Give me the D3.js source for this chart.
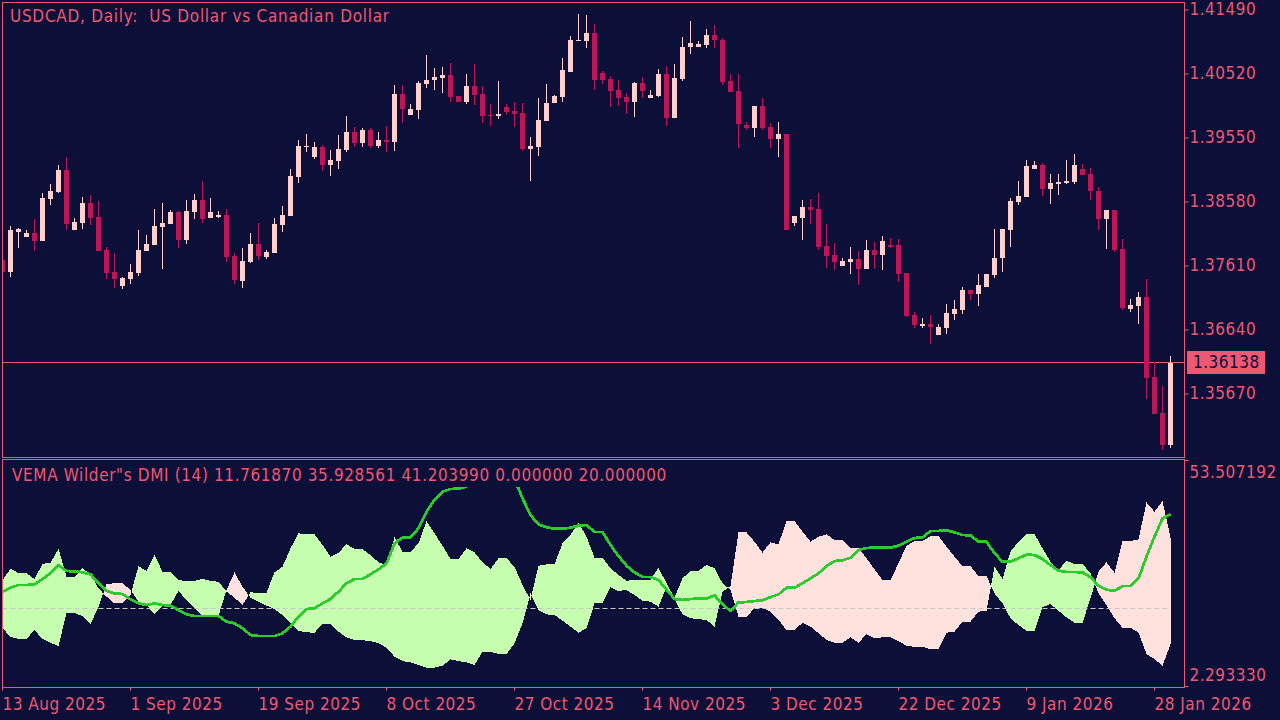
<!DOCTYPE html>
<html>
<head>
<meta charset="utf-8">
<script src="https://cdn.jsdelivr.net/npm/d3@7"></script>
<style>
  html, body { margin: 0; padding: 0; background: #0c0f37; }
  svg { display: block; }
  text { font-family: "DejaVu Sans Condensed", "DejaVu Sans", sans-serif; font-size: 17px; letter-spacing: 0.5px; white-space: pre; }
  .title-text { letter-spacing: 0.73px; }
  .caption-text { letter-spacing: 0.62px; }
</style>
</head>
<body>
<div id="chart"></div>
<script>
// Daily candles, one entry per bar
const opens = [
  1.37693, 1.37512, 1.38118, 1.38042, 1.38103, 1.37982, 1.38618, 1.38724, 1.39057, 1.38148,
  1.38255, 1.38558, 1.38345, 1.37845, 1.37512, 1.37299, 1.37406, 1.37497, 1.37830, 1.37921,
  1.38194, 1.38239, 1.38421, 1.37997, 1.38421, 1.38603, 1.38330, 1.38345, 1.38375, 1.37754,
  1.37375, 1.37663, 1.37936, 1.37739, 1.37800, 1.38224, 1.38360, 1.38951, 1.39406, 1.39255,
  1.39406, 1.39133, 1.39194, 1.39361, 1.39634, 1.39467, 1.39664, 1.39421, 1.39512, 1.39482,
  1.40209, 1.39891, 1.39967, 1.40361, 1.40422, 1.40452, 1.40497, 1.40179, 1.40088, 1.40331,
  1.40209, 1.39891, 1.39876, 1.40012, 1.39952, 1.39921, 1.39376, 1.39406, 1.39800, 1.40073,
  1.40164, 1.40543, 1.41013, 1.41013, 1.41134, 1.40528, 1.40437, 1.40270, 1.40164, 1.40088,
  1.40377, 1.40149, 1.40179, 1.40512, 1.39846, 1.40437, 1.40922, 1.40922, 1.40952, 1.41103,
  1.41028, 1.40407, 1.40255, 1.39739, 1.39694, 1.40027, 1.39709, 1.39527, 1.39603, 1.38255,
  1.38330, 1.38497, 1.38467, 1.37906, 1.37769, 1.37602, 1.37663, 1.37709, 1.37557, 1.37845,
  1.37769, 1.37921, 1.37921, 1.37497, 1.36860, 1.36693, 1.36723, 1.36557, 1.36663, 1.36875,
  1.36936, 1.37239, 1.37178, 1.37284, 1.37466, 1.37724, 1.38148, 1.38573, 1.38648, 1.39073,
  1.39133, 1.38769, 1.38845, 1.38861, 1.38876, 1.39073, 1.38997, 1.38739, 1.38315, 1.38451,
  1.37860, 1.36951, 1.36997, 1.37133, 1.35920, 1.35375, 1.34889
];
const highs = [
  1.37693, 1.38209, 1.38179, 1.38148, 1.38315, 1.38709, 1.38845, 1.39133, 1.39255, 1.38330,
  1.38648, 1.38678, 1.38588, 1.37891, 1.37800, 1.37436, 1.37632, 1.38148, 1.38072, 1.38467,
  1.38558, 1.38451, 1.38436, 1.38603, 1.38693, 1.38891, 1.38633, 1.38436, 1.38467, 1.37800,
  1.37876, 1.38103, 1.38255, 1.37845, 1.38330, 1.38512, 1.39073, 1.39512, 1.39603, 1.39482,
  1.39436, 1.39361, 1.39588, 1.39876, 1.39709, 1.39694, 1.39694, 1.39634, 1.39724, 1.40346,
  1.40346, 1.40057, 1.40407, 1.40800, 1.40604, 1.40619, 1.40680, 1.40179, 1.40512, 1.40664,
  1.40331, 1.40057, 1.40407, 1.40057, 1.40088, 1.40073, 1.39558, 1.40149, 1.40361, 1.40194,
  1.40755, 1.41088, 1.41421, 1.41406, 1.41270, 1.40558, 1.40482, 1.40422, 1.40225, 1.40392,
  1.40467, 1.40270, 1.40588, 1.40634, 1.40664, 1.41073, 1.41316, 1.41013, 1.41194, 1.41255,
  1.41058, 1.40512, 1.40512, 1.39785, 1.40027, 1.40149, 1.39770, 1.39785, 1.39603, 1.38360,
  1.38603, 1.38618, 1.38709, 1.38239, 1.37951, 1.37724, 1.37891, 1.37830, 1.37997, 1.37967,
  1.38057, 1.38027, 1.38012, 1.37497, 1.36906, 1.36815, 1.36860, 1.36723, 1.37027, 1.37087,
  1.37284, 1.37239, 1.37481, 1.37481, 1.38164, 1.38164, 1.38633, 1.38891, 1.39209, 1.39194,
  1.39164, 1.38997, 1.38997, 1.39209, 1.39300, 1.39148, 1.39088, 1.38800, 1.38451, 1.38451,
  1.38012, 1.37102, 1.37208, 1.37406, 1.36148, 1.35784, 1.36239
];
const lows = [
  1.37512, 1.37436, 1.37876, 1.38042, 1.37830, 1.37982, 1.38527, 1.38709, 1.38148, 1.38148,
  1.38164, 1.38224, 1.37830, 1.37406, 1.37269, 1.37254, 1.37329, 1.37451, 1.37830, 1.37921,
  1.37557, 1.38239, 1.37876, 1.37936, 1.38315, 1.38255, 1.38330, 1.38330, 1.37663, 1.37329,
  1.37269, 1.37648, 1.37693, 1.37709, 1.37800, 1.38118, 1.38360, 1.38861, 1.39331, 1.39225,
  1.39042, 1.38966, 1.39073, 1.39331, 1.39406, 1.39406, 1.39391, 1.39391, 1.39331, 1.39346,
  1.39770, 1.39891, 1.39830, 1.40301, 1.40270, 1.40225, 1.40088, 1.40088, 1.40057, 1.40042,
  1.39770, 1.39724, 1.39830, 1.39891, 1.39709, 1.39346, 1.38891, 1.39270, 1.39800, 1.40073,
  1.40088, 1.40543, 1.41013, 1.40907, 1.40270, 1.40361, 1.40012, 1.40027, 1.39906, 1.39861,
  1.40149, 1.40149, 1.40164, 1.39724, 1.39846, 1.40407, 1.40815, 1.40922, 1.40907, 1.40907,
  1.40346, 1.40240, 1.39391, 1.39664, 1.39558, 1.39664, 1.39391, 1.39255, 1.38148, 1.38209,
  1.37997, 1.38239, 1.37845, 1.37572, 1.37542, 1.37602, 1.37481, 1.37314, 1.37557, 1.37557,
  1.37542, 1.37876, 1.37360, 1.36830, 1.36663, 1.36663, 1.36420, 1.36557, 1.36572, 1.36784,
  1.36875, 1.37087, 1.36997, 1.37284, 1.37421, 1.37512, 1.37891, 1.38527, 1.38648, 1.39073,
  1.38663, 1.38543, 1.38678, 1.38845, 1.38845, 1.38982, 1.38603, 1.38148, 1.37860, 1.37815,
  1.36936, 1.36906, 1.36723, 1.35587, 1.35360, 1.34814, 1.34844
];
const closes = [
  1.37512, 1.38148, 1.38164, 1.38103, 1.37982, 1.38633, 1.38739, 1.39057, 1.38239, 1.38270,
  1.38558, 1.38330, 1.37830, 1.37497, 1.37406, 1.37421, 1.37512, 1.37845, 1.37936, 1.38209,
  1.38255, 1.38421, 1.37997, 1.38436, 1.38603, 1.38315, 1.38421, 1.38375, 1.37739, 1.37390,
  1.37678, 1.37936, 1.37754, 1.37815, 1.38239, 1.38375, 1.38966, 1.39421, 1.39421, 1.39406,
  1.39133, 1.39209, 1.39376, 1.39634, 1.39467, 1.39664, 1.39421, 1.39512, 1.39482, 1.40209,
  1.39982, 1.39982, 1.40377, 1.40422, 1.40467, 1.40497, 1.40164, 1.40088, 1.40331, 1.40194,
  1.39876, 1.39876, 1.39906, 1.39937, 1.39906, 1.39376, 1.39421, 1.39815, 1.40073, 1.40179,
  1.40573, 1.41028, 1.41028, 1.41134, 1.40422, 1.40422, 1.40255, 1.40149, 1.40088, 1.40377,
  1.40255, 1.40194, 1.40512, 1.39846, 1.40452, 1.40922, 1.40982, 1.40967, 1.41103, 1.41028,
  1.40392, 1.40240, 1.39754, 1.39694, 1.40027, 1.39694, 1.39527, 1.39603, 1.38148, 1.38360,
  1.38497, 1.38451, 1.37891, 1.37754, 1.37663, 1.37678, 1.37709, 1.37557, 1.37845, 1.37769,
  1.37982, 1.37891, 1.37481, 1.36845, 1.36708, 1.36723, 1.36678, 1.36678, 1.36890, 1.36951,
  1.37239, 1.37178, 1.37314, 1.37481, 1.37724, 1.38164, 1.38588, 1.38663, 1.39118, 1.39133,
  1.38769, 1.38861, 1.38876, 1.38891, 1.39133, 1.38982, 1.38739, 1.38315, 1.38451, 1.37845,
  1.36966, 1.37011, 1.37133, 1.35905, 1.35360, 1.34889, 1.36138
];

// Indicator lines of the lower panel
const plusDI = [
  26.31, 28.81, 27.90, 27.90, 26.54, 29.94, 30.24, 33.34, 27.07, 27.07,
  28.96, 27.60, 24.42, 22.54, 21.02, 21.02, 22.91, 29.48, 28.35, 31.98,
  28.20, 28.20, 26.31, 26.09, 26.09, 26.54, 26.09, 25.93, 23.67, 22.31,
  20.65, 23.52, 23.37, 23.44, 28.05, 29.33, 33.49, 36.89, 36.66, 36.66,
  34.24, 31.60, 32.51, 34.40, 33.34, 33.26, 31.98, 30.32, 29.71, 35.98,
  32.73, 32.73, 34.62, 39.68, 36.89, 34.09, 31.07, 31.07, 33.49, 32.58,
  30.32, 28.81, 31.22, 31.22, 29.33, 25.18, 21.78, 29.56, 29.86, 29.86,
  34.62, 36.51, 39.31, 36.13, 31.37, 31.37, 28.96, 27.45, 26.16, 26.31,
  26.31, 26.31, 29.11, 25.56, 22.31, 26.69, 28.35, 28.35, 29.71, 28.96,
  25.56, 24.05, 18.00, 18.00, 19.89, 20.04, 19.14, 17.25, 14.98, 14.98,
  16.64, 15.74, 14.23, 12.72, 12.11, 12.11, 13.32, 12.11, 14.00, 13.09,
  13.32, 13.32, 12.49, 11.36, 11.20, 11.20, 10.60, 10.60, 14.38, 14.60,
  16.87, 16.87, 19.14, 19.36, 29.33, 26.54, 32.73, 35.00, 36.74, 36.74,
  33.49, 30.47, 28.58, 30.69, 29.94, 29.94, 27.82, 23.29, 20.65, 17.63,
  15.51, 15.51, 14.38, 9.54, 8.41, 6.90, 11.76
];
const minusDI = [
  15.36, 13.47, 12.94, 12.94, 14.98, 12.94, 12.11, 11.36, 18.83, 18.83,
  18.15, 16.34, 20.19, 25.41, 25.56, 25.56, 24.05, 21.40, 20.65, 18.53,
  20.50, 20.65, 23.82, 21.78, 19.89, 18.15, 18.15, 18.15, 24.05, 28.05,
  24.80, 22.31, 21.40, 20.50, 19.74, 18.38, 16.49, 14.76, 14.45, 14.38,
  16.34, 16.34, 14.60, 13.32, 12.72, 12.64, 12.49, 11.96, 10.98, 8.94,
  7.96, 7.65, 7.05, 6.45, 6.45, 6.90, 8.33, 7.96, 7.65, 7.05,
  10.07, 10.07, 9.54, 9.54, 11.96, 16.49, 23.29, 19.51, 18.53, 18.38,
  17.10, 15.74, 14.38, 15.36, 21.02, 21.17, 24.65, 23.82, 24.05, 22.91,
  21.63, 21.40, 20.27, 24.80, 22.01, 18.53, 17.63, 17.47, 17.25, 15.74,
  23.67, 24.95, 37.11, 37.11, 35.00, 32.51, 34.85, 34.40, 39.68, 39.68,
  37.27, 35.00, 36.13, 36.66, 35.38, 35.38, 33.64, 33.64, 31.22, 28.73,
  26.31, 26.31, 30.09, 34.09, 35.15, 35.15, 36.28, 36.28, 33.87, 31.60,
  29.48, 29.48, 27.22, 27.22, 23.29, 21.02, 17.63, 16.11, 14.83, 14.83,
  20.12, 20.87, 19.36, 17.85, 16.64, 16.64, 22.16, 28.20, 30.32, 27.97,
  35.15, 35.15, 35.53, 43.91, 41.80, 44.22, 35.93
];
// null where the line runs up behind the panel caption and cannot be read
const adxLine = [
  23.67, 24.57, 25.18, 25.18, 25.33, 26.54, 27.82, 29.71, 28.35, 28.28,
  28.05, 27.60, 25.56, 23.82, 23.29, 23.14, 21.93, 21.02, 20.65, 21.02,
  20.65, 20.50, 19.51, 18.53, 18.15, 18.15, 18.15, 18.15, 16.87, 16.49,
  15.36, 13.85, 13.62, 13.62, 13.62, 14.23, 15.74, 18.00, 19.74, 19.89,
  21.02, 22.01, 23.67, 25.56, 26.54, 26.54, 27.60, 28.73, 30.09, 34.62,
  35.91, 35.98, 38.02, 41.80, 44.44, 46.33, 46.93, 47.01, 47.46, null,
  null, null, null, null, 49.20, 44.82, 41.04, 38.93, 38.25, 37.95,
  37.95, 38.17, 38.63, 38.78, 37.19, 37.19, 34.24, 31.75, 29.56, 28.05,
  26.99, 26.99, 26.31, 24.20, 22.01, 21.78, 22.01, 22.08, 22.08, 22.84,
  20.80, 19.29, 21.25, 21.33, 21.55, 21.70, 22.46, 23.06, 24.57, 24.57,
  25.56, 26.69, 27.82, 29.48, 30.62, 30.77, 31.37, 33.11, 33.56, 33.64,
  33.64, 33.64, 34.09, 35.00, 35.83, 35.98, 37.42, 37.42, 37.57, 37.11,
  36.51, 36.43, 35.00, 35.00, 32.36, 30.47, 30.47, 31.22, 32.05, 31.98,
  31.07, 29.71, 28.43, 28.13, 28.13, 28.05, 26.92, 25.03, 24.12, 23.82,
  24.95, 24.95, 26.69, 31.60, 36.13, 40.29, 41.20
];

// Axis labels
const priceTicks = [1.41490, 1.40520, 1.39550, 1.38580, 1.37610, 1.36640, 1.35670];
const lastPrice = 1.36138;
const indicatorMax = 53.507192;
const indicatorMin = 2.293330;
const levelValue = 20;
const dateLabels = [
  "13 Aug 2025", "1 Sep 2025", "19 Sep 2025", "8 Oct 2025", "27 Oct 2025",
  "14 Nov 2025", "3 Dec 2025", "22 Dec 2025", "9 Jan 2026", "28 Jan 2026"
];
const dateBars = [0, 16, 32, 48, 64, 80, 96, 112, 128, 144];

const titleText = "USDCAD, Daily:  US Dollar vs Canadian Dollar";
const indicatorText = "VEMA Wilder\"s DMI (14) 11.761870 35.928561 41.203990 0.000000 20.000000";

const background = "#0c0f37";
const axisColor = "#ee5873";
const bullColor = "#ffd0cc";
const bearColor = "#be1558";
const bandUp = "#c6ffb0";
const bandDown = "#ffe2de";
const lineColor = "#2ccb2c";

const width = 1280;
const height = 720;
const left = 2.5;
const right = 1184.5;
const pricePanel = { top: 2.5, bottom: 457.5 };
const indicatorPanel = { top: 459.5, bottom: 687.5 };

const svg = d3.select("#chart")
  .append("svg")
  .attr("width", width)
  .attr("height", height);

svg.append("rect")
  .attr("width", width)
  .attr("height", height)
  .attr("fill", background);

const xScale = d3.scaleLinear()
  .domain([0, opens.length - 1])
  .range([2.5, 1170.5]);

const priceScale = d3.scaleLinear()
  .domain([priceTicks[priceTicks.length - 1], priceTicks[0]])
  .range([393.5, 9.5]);

const indicatorScale = d3.scaleLinear()
  .domain([indicatorMin, indicatorMax])
  .range([686, 460]);

// Clip areas
const defs = svg.append("defs");

defs.append("clipPath")
  .attr("id", "clip-price")
  .append("rect")
  .attr("x", left)
  .attr("y", pricePanel.top)
  .attr("width", right - left)
  .attr("height", pricePanel.bottom - pricePanel.top);

// The caption strip of the lower panel hides whatever runs behind it
defs.append("clipPath")
  .attr("id", "clip-indicator")
  .append("rect")
  .attr("x", left)
  .attr("y", 487)
  .attr("width", right - left)
  .attr("height", indicatorPanel.bottom - 487);

// =========================
// PRICE PANEL
// =========================

const priceGroup = svg.append("g")
  .attr("clip-path", "url(#clip-price)");

priceGroup.append("line")
  .attr("x1", left)
  .attr("x2", right)
  .attr("y1", Math.floor(priceScale(lastPrice)) + 0.5)
  .attr("y2", Math.floor(priceScale(lastPrice)) + 0.5)
  .attr("stroke", axisColor);

const candles = priceGroup.selectAll(".candle")
  .data(opens.map((o, i) => ({
    i: i,
    open: o,
    high: highs[i],
    low: lows[i],
    close: closes[i]
  })))
  .enter()
  .append("g")
  .attr("class", "candle")
  .attr("shape-rendering", "crispEdges")
  .attr("fill", d => d.close >= d.open ? bullColor : bearColor);

// wick
candles.append("rect")
  .attr("x", d => xScale(d.i) - 0.5)
  .attr("width", 1)
  .attr("y", d => Math.round(priceScale(d.high)))
  .attr("height", d => Math.round(priceScale(d.low)) - Math.round(priceScale(d.high)));

// body
candles.append("rect")
  .attr("x", d => xScale(d.i) - 2.5)
  .attr("width", 5)
  .attr("y", d => Math.round(priceScale(Math.max(d.open, d.close))))
  .attr("height", d => Math.max(1,
    Math.round(priceScale(Math.min(d.open, d.close))) -
    Math.round(priceScale(Math.max(d.open, d.close)))
  ));

// =========================
// INDICATOR PANEL
// =========================

// Split the band wherever the two lines cross, so each piece has one colour
function bandRuns() {

  const runs = [];
  let current = null;

  plusDI.forEach((plus, i) => {

    const up = plus >= minusDI[i];

    if (current && current.up !== up) {

      const before = plusDI[i - 1] - minusDI[i - 1];
      const after = plus - minusDI[i];
      const t = before / (before - after);
      const value = plusDI[i - 1] + t * (plus - plusDI[i - 1]);
      const cross = { i: i - 1 + t, a: value, b: value };

      current.points.push(cross);
      runs.push(current);
      current = { up: up, points: [cross] };
    }

    if (!current) {
      current = { up: up, points: [] };
    }

    current.points.push({ i: i, a: plus, b: minusDI[i] });
  });

  runs.push(current);

  return runs;
}

const bandArea = d3.area()
  .x(d => xScale(d.i))
  .y0(d => indicatorScale(d.a))
  .y1(d => indicatorScale(d.b));

svg.append("g")
  .attr("shape-rendering", "crispEdges")
  .selectAll("path")
  .data(bandRuns())
  .enter()
  .append("path")
  .attr("d", d => bandArea(d.points))
  .attr("fill", d => d.up ? bandUp : bandDown);

svg.append("line")
  .attr("x1", left)
  .attr("x2", right - 14)
  .attr("y1", Math.round(indicatorScale(levelValue)) + 0.5)
  .attr("y2", Math.round(indicatorScale(levelValue)) + 0.5)
  .attr("stroke", "#c8c8c8")
  .attr("stroke-dasharray", "5 3");

const adxPath = d3.line()
  .defined(d => d !== null)
  .x((d, i) => xScale(i))
  .y(d => indicatorScale(d));

svg.append("path")
  .attr("d", adxPath(adxLine))
  .attr("clip-path", "url(#clip-indicator)")
  .attr("fill", "none")
  .attr("stroke", lineColor)
  .attr("stroke-width", 2.8)
  .attr("stroke-linejoin", "round")
  .attr("shape-rendering", "crispEdges");

// =========================
// AXES AND FRAME
// =========================

const priceAxis = d3.axisRight(priceScale)
  .tickValues(priceTicks)
  .tickFormat(d3.format(".5f"))
  .tickSize(4)
  .tickPadding(1);

const priceAxisGroup = svg.append("g")
  .attr("transform", `translate(${right}, 0)`)
  .call(priceAxis);

priceAxisGroup.select(".domain").remove();

const indicatorAxis = d3.axisRight(indicatorScale)
  .tickValues([indicatorMax, indicatorMin])
  .tickFormat(d3.format(".6f"))
  .tickSize(4)
  .tickPadding(1);

const indicatorAxisGroup = svg.append("g")
  .attr("transform", `translate(${right}, 0)`)
  .call(indicatorAxis);

indicatorAxisGroup.select(".domain").remove();

// MetaTrader keeps these two labels inside the panel
indicatorAxisGroup.selectAll(".tick text")
  .attr("dy", d => d === indicatorMax ? "1em" : "-0.3em");

const dateScale = d3.scalePoint()
  .domain(dateBars)
  .range([xScale(dateBars[0]) - 0.5, xScale(dateBars[dateBars.length - 1]) - 0.5]);

const dateAxis = d3.axisBottom(dateScale)
  .tickFormat((d, i) => dateLabels[i])
  .tickSize(3)
  .tickPadding(7);

const dateAxisGroup = svg.append("g")
  .attr("transform", `translate(0, ${indicatorPanel.bottom})`)
  .call(dateAxis);

dateAxisGroup.select(".domain").remove();

dateAxisGroup.selectAll(".tick text")
  .attr("text-anchor", "start");

svg.selectAll(".tick line")
  .attr("stroke", axisColor);

svg.selectAll(".tick text")
  .attr("fill", axisColor);

// axis() sets its own font on the group, drop it so the page style applies
svg.selectAll("g[font-family]")
  .attr("font-family", null)
  .attr("font-size", null);

[pricePanel, indicatorPanel].forEach(panel => {

  svg.append("rect")
    .attr("x", left)
    .attr("y", panel.top)
    .attr("width", right - left)
    .attr("height", panel.bottom - panel.top)
    .attr("fill", "none")
    .attr("stroke", axisColor);
});

// Last price tag
svg.append("rect")
  .attr("x", 1187)
  .attr("y", 351)
  .attr("width", 78)
  .attr("height", 23)
  .attr("fill", axisColor);

svg.append("text")
  .attr("x", 1193)
  .attr("y", Math.floor(priceScale(lastPrice)) + 6)
  .attr("fill", background)
  .text(d3.format(".5f")(lastPrice));

// Captions
svg.append("text")
  .attr("class", "title-text")
  .attr("x", 10)
  .attr("y", 22)
  .attr("fill", axisColor)
  .text(titleText);

svg.append("text")
  .attr("class", "caption-text")
  .attr("x", 12)
  .attr("y", 481)
  .attr("fill", axisColor)
  .text(indicatorText);
</script>
</body>
</html>
